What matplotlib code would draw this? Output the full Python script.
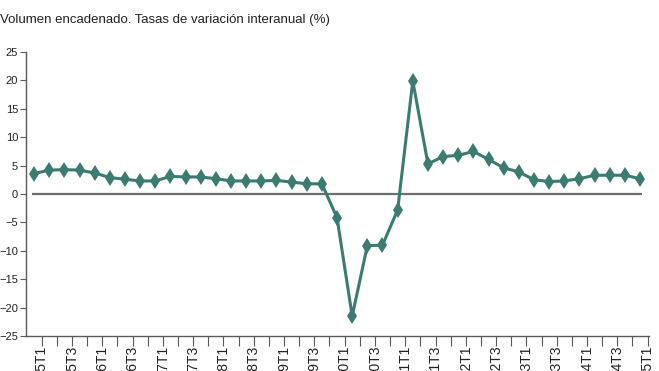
import numpy as np
import matplotlib.pyplot as plt

plt.rcParams['font.family'] = ['Liberation Sans', 'DejaVu Sans']

# Quarterly labels 2015T1 .. 2025T1
years = list(range(2015, 2026))
quarters = [f'{y}T{q}' for y in years for q in range(1, 5)][:41]

# Volumen encadenado, tasa de variacion interanual (%)
values = [3.6, 4.2, 4.3, 4.2, 3.7, 2.9, 2.6, 2.3, 2.3, 3.1,
          3.0, 3.0, 2.7, 2.3, 2.3, 2.3, 2.4, 2.1, 1.8, 1.8,
          -4.2, -21.5, -9.1, -9.0, -2.8, 19.9, 5.3, 6.6, 6.8, 7.5,
          6.1, 4.6, 3.9, 2.5, 2.2, 2.3, 2.7, 3.3, 3.3, 3.3, 2.7]

line_color = '#3b7b70'
axis_color = '#5a5a5a'

fig = plt.figure(figsize=(6.59, 3.71), dpi=100)
ax = fig.add_axes([0.0402, 0.0943, 0.9448, 0.7655])

x = np.arange(len(values))
ax.hlines(0, -0.15, len(values) - 1 + 0.15, color='#6e6e6e', linewidth=1.6, zorder=1)
ax.plot(x, values, color=line_color, linewidth=2.2, marker='d',
        markersize=8.5, markeredgewidth=0, zorder=3)

ax.set_xlim(-0.5, 40.6)
ax.set_ylim(-25, 25)
ax.set_yticks(np.arange(-25, 26, 5))
ax.tick_params(axis='y', labelsize=8, labelcolor='#222222', length=4,
               width=0.8, color=axis_color, pad=2)

# ticks at category boundaries, every other one labelled
ax.set_xticks(x + 0.5)
ax.set_xticklabels([q if i % 2 == 0 else '' for i, q in enumerate(quarters)],
                   rotation=90, fontsize=10, va='top')
ax.tick_params(axis='x', length=7, width=0.8, color=axis_color,
               labelcolor='#222222', pad=0)

for s in ['top', 'right']:
    ax.spines[s].set_visible(False)
for s in ['left', 'bottom']:
    ax.spines[s].set_color(axis_color)
    ax.spines[s].set_linewidth(1.0)

fig.text(0.0, 0.945, 'Volumen encadenado. Tasas de variación interanual (%)',
         fontsize=9.5, color='#222222', ha='left', va='center')

fig.savefig('out.png', dpi=100)
